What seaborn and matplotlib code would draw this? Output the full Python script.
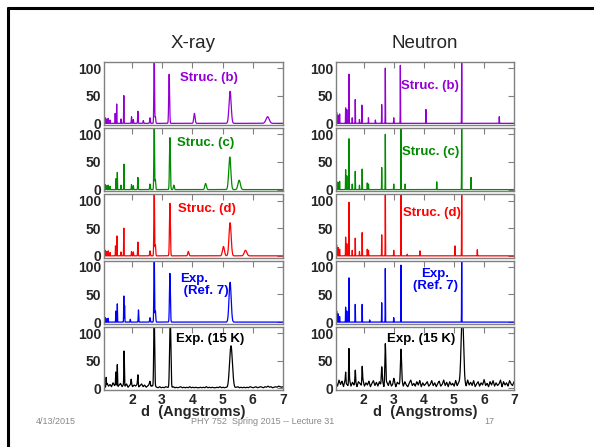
import numpy as np
import pandas as pd
import matplotlib
matplotlib.use("Agg")
import matplotlib.pyplot as plt
from matplotlib.lines import Line2D
import seaborn as sns

# peak positions (d, Angstrom) and heights
# ---- X-ray column
xr_b_d = [1.12, 1.17, 1.22, 1.28, 1.45, 1.50, 1.64, 1.735, 1.99, 2.05, 2.20, 2.38, 2.60, 2.74, 2.78, 3.235, 4.07, 5.25, 6.49]
xr_b_h = [10, 8, 9, 6, 18, 35, 8, 51, 12, 7, 22, 5, 10, 130, 12, 89, 18, 58, 12]
xr_c_d = [1.12, 1.17, 1.22, 1.28, 1.48, 1.52, 1.64, 1.74, 1.99, 2.05, 2.20, 2.60, 2.74, 2.78, 3.26, 3.39, 4.44, 5.24, 5.55]
xr_c_h = [9, 7, 8, 6, 20, 31, 8, 46, 9, 7, 22, 10, 130, 18, 94, 8, 11, 59, 17]
xr_d_d = [1.12, 1.17, 1.22, 1.28, 1.46, 1.51, 1.64, 1.735, 1.99, 2.05, 2.20, 2.60, 2.74, 2.78, 3.26, 3.87, 5.03, 5.25, 5.76]
xr_d_h = [10, 8, 9, 6, 18, 36, 7, 51, 8, 7, 25, 9, 130, 20, 95, 8, 17, 60, 10]
xr_e_d = [1.12, 1.17, 1.22, 1.47, 1.52, 1.735, 1.76, 1.95, 2.22, 2.60, 2.74, 2.78, 3.26, 5.25]
xr_e_h = [8, 6, 7, 20, 33, 48, 30, 5, 22, 8, 130, 20, 88, 72]
xr_x_d = [1.15, 1.47, 1.52, 1.745, 1.98, 2.20, 2.60, 2.74, 3.27, 5.28]
xr_x_h = [15, 22, 40, 62, 8, 20, 8, 130, 130, 76]
xr_noise = [6, 2, 9, 4, 7, 3, 10, 5, 8, 2, 6, 9, 3, 7, 4, 8, 2, 5, 9, 3, 6, 4, 7, 2, 5, 8, 3, 6, 2, 4,
            7, 3, 5, 2, 4, 2, 1, 3, 1, 2, 1, 3, 2, 1, 2, 1, 3, 1, 2, 1, 2, 3, 1, 2, 1, 2, 1, 3, 1, 2,
            1, 2, 1, 1, 2, 1, 2, 1, 3, 1, 2, 1, 2, 1, 1, 2, 1, 3, 1, 2, 1, 2, 1, 2, 1, 1, 2, 1, 2, 3,
            1, 2, 1, 2, 1, 2, 1, 3, 2, 1, 2, 3, 1, 2, 3, 2, 1, 3, 2, 4, 2, 3, 1, 2, 3, 2, 4, 3, 2, 3]

# ---- Neutron column
nt_b_d = [1.10, 1.15, 1.20, 1.40, 1.44, 1.51, 1.62, 1.72, 1.86, 1.94, 2.16, 2.39, 2.60, 2.72, 3.00, 3.22, 4.07, 5.26, 6.51]
nt_b_h = [20, 15, 17, 28, 25, 89, 10, 43, 7, 33, 10, 6, 34, 100, 10, 105, 25, 130, 12]
nt_c_d = [1.10, 1.15, 1.20, 1.40, 1.44, 1.51, 1.62, 1.72, 1.86, 1.95, 2.12, 2.16, 2.60, 2.72, 3.00, 3.24, 3.38, 4.43, 5.26, 5.57]
nt_c_h = [15, 13, 15, 36, 25, 92, 10, 33, 8, 37, 12, 10, 40, 100, 10, 130, 10, 14, 130, 22]
nt_d_d = [1.10, 1.15, 1.20, 1.40, 1.44, 1.51, 1.62, 1.72, 1.86, 1.95, 2.12, 2.16, 2.60, 2.72, 3.00, 3.24, 3.45, 3.87, 5.04, 5.26, 5.78]
nt_d_h = [20, 15, 12, 34, 22, 97, 10, 32, 8, 42, 12, 10, 38, 130, 10, 130, 3, 9, 18, 130, 11]
nt_e_d = [1.10, 1.15, 1.20, 1.40, 1.44, 1.51, 1.72, 1.95, 2.20, 2.60, 2.72, 3.00, 3.24, 5.26]
nt_e_h = [20, 15, 10, 27, 20, 80, 32, 32, 4, 35, 97, 8, 103, 130]
nt_x_d = [1.40, 1.51, 1.72, 1.95, 2.60, 2.72, 3.00, 3.24, 5.28]
nt_x_h = [18, 60, 20, 30, 28, 72, 8, 62, 130]
nt_noise = [11, 4, 15, 7, 13, 3, 14, 8, 5, 16, 4, 11, 6, 14, 3, 12, 9, 5, 15, 4, 10, 6, 13, 3, 9, 14, 5, 11, 4, 12,
            6, 15, 3, 9, 11, 5, 14, 4, 7, 12, 3, 11, 8, 5, 14, 4, 12, 6, 3, 10, 15, 5, 9, 4, 12, 6, 14, 3, 10, 5,
            8, 12, 4, 7, 14, 5, 10, 3, 9, 13, 4, 7, 15, 5, 11, 3, 12, 6, 9, 4, 14, 5, 10, 6, 3, 12, 8, 4, 15, 6,
            11, 5, 14, 3, 8, 12, 4, 10, 6, 16, 5, 9, 3, 12, 6, 14, 4, 10, 5, 8, 15, 3, 12, 6, 10, 4, 14, 8, 5, 12]

panel_colors = ["#9400D3", "#008B00", "#FF0000", "#0000FF", "#000000"]
font = "Liberation Sans"

sns.set_theme(style="white")
plt.rcParams["font.family"] = [font, "DejaVu Sans"]

grid = np.arange(1.0, 7.1, 0.002)


def spectrum(pos, hts, width, noise=None):
    # broaden the stick pattern into a line profile
    y = np.zeros_like(grid)
    for p, h in zip(pos, hts):
        s = width[0] + width[1] * p * p
        y += h * np.exp(-0.5 * ((grid - p) / s) ** 2)
    if noise is not None:
        nx = np.linspace(1.08, 7.0, len(noise))
        y = y + np.interp(grid, nx, noise)
    return pd.DataFrame({"d": grid, "I": y})


columns = [
    dict(left=104, right=283, title="X-ray",
         panels=[(xr_b_d, xr_b_h, (0.002, 0.0012), None),
                 (xr_c_d, xr_c_h, (0.002, 0.0012), None),
                 (xr_d_d, xr_d_h, (0.002, 0.0012), None),
                 (xr_e_d, xr_e_h, (0.002, 0.0012), None),
                 (xr_x_d, xr_x_h, (0.004, 0.0015), xr_noise)],
         labels=[("Struc. (b)", 4.55, 82, "center"), ("Struc. (c)", 4.43, 85, "center"),
                 ("Struc. (d)", 4.48, 85, "center"), ("Exp.\n (Ref. 7)", 3.6, 67, "left"),
                 ("Exp. (15 K)", 4.6, 90, "center")]),
    dict(left=336, right=514, title="Neutron",
         panels=[(nt_b_d, nt_b_h, (0.004, 0.0), None),
                 (nt_c_d, nt_c_h, (0.004, 0.0), None),
                 (nt_d_d, nt_d_h, (0.004, 0.0), None),
                 (nt_e_d, nt_e_h, (0.004, 0.0), None),
                 (nt_x_d, nt_x_h, (0.006, 0.0012), nt_noise)],
         labels=[("Struc. (b)", 4.2, 68, "center"), ("Struc. (c)", 4.23, 68, "center"),
                 ("Struc. (d)", 4.26, 78, "center"), ("Exp.\n(Ref. 7)", 4.39, 76, "center"),
                 ("Exp. (15 K)", 3.92, 90, "center")]),
]

W, H = 594, 447
fig = plt.figure(figsize=(W / 100, H / 100), dpi=100)
fig.patch.set_facecolor("white")

top_px, ph, gap = 62, 63, 3.25
for col in columns:
    x0 = col["left"] / W
    w = (col["right"] - col["left"]) / W
    for i, (pos, hts, width, noise) in enumerate(col["panels"]):
        y_top = top_px + i * (ph + gap)
        ax = fig.add_axes([x0, 1 - (y_top + ph) / H, w, ph / H])
        df = spectrum(pos, hts, width, noise)
        sns.lineplot(data=df, x="d", y="I", ax=ax, color=panel_colors[i],
                     lw=0.9, estimator=None)
        ax.set_xlim(1.08, 7.0)
        ax.set_ylim(-3, 111)
        ax.set_yticks([0, 50, 100])
        ax.set_xticks([2, 3, 4, 5, 6, 7])
        ax.set_xlabel("")
        ax.set_ylabel("")
        ax.tick_params(direction="in", length=4, width=0.8, color="#808080",
                       top=True, right=True, labelsize=10, pad=2)
        for lab in ax.get_yticklabels():
            lab.set_fontweight("bold")
        for sp in ax.spines.values():
            sp.set_color("#808080")
            sp.set_linewidth(1.0)
        if i < 4:
            ax.set_xticklabels([])
        else:
            for lab in ax.get_xticklabels():
                lab.set_fontweight("bold")
            ax.set_xlabel("d  (Angstroms)", fontsize=10.5, fontweight="bold", labelpad=-1)
        txt, tx, ty, ha = col["labels"][i]
        ax.text(tx, ty, txt, color=panel_colors[i], fontsize=9.5, fontweight="bold",
                ha=ha, va="center", linespacing=1.0)
    fig.text((col["left"] + col["right"]) / 2 / W, 1 - 44 / H, col["title"],
             ha="center", va="center", fontsize=13.5)

# slide decoration
fig.text(36 / W, 1 - 422 / H, "4/13/2015", fontsize=6.5, color="#888888", va="center")
fig.text(263 / W, 1 - 422 / H, "PHY 752  Spring 2015 -- Lecture 31", fontsize=6.5,
         color="#888888", ha="center", va="center")
fig.text(489 / W, 1 - 422 / H, "17", fontsize=6.5, color="#888888", ha="center", va="center")
fig.add_artist(Line2D([8 / W, 8 / W], [0, 1 - 8 / H], color="black", lw=2.2))
fig.add_artist(Line2D([8 / W, 1], [1 - 8 / H, 1 - 8 / H], color="black", lw=2.2))

fig.savefig("out.png", dpi=100, facecolor="white")
